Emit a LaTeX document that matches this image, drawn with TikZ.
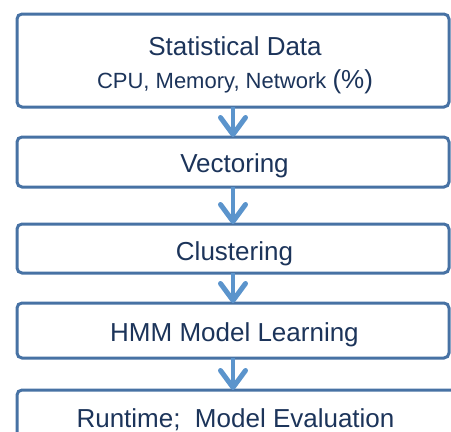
\documentclass[tikz,border=0pt]{standalone}
\usepackage{fontspec}
\setmainfont{Liberation Sans}
\usetikzlibrary{arrows.meta}
\definecolor{boxline}{RGB}{71,114,164}
\definecolor{flow}{RGB}{91,148,204}
\definecolor{ink}{RGB}{28,52,90}
\begin{document}
\begin{tikzpicture}[x=1pt,y=-1pt,
  stage/.style={draw=boxline, line width=3pt, rounded corners=5pt, fill=white,
    inner sep=0pt, outer sep=0pt},
  caption/.style={text=ink, inner sep=0pt, anchor=base,
    font=\fontsize{26}{30}\selectfont},
  subcaption/.style={text=ink, inner sep=0pt, anchor=base,
    font=\fontsize{22}{26}\selectfont},
  flowarrow/.style={draw=flow, line width=4pt,
    -{Straight Barb[length=17pt,width=25pt,line width=5pt,round]}}]
\useasboundingbox (0,0) rectangle (451,432);
\clip (0,0) rectangle (451,432);

% processing stages
\node[stage, minimum width=432pt, minimum height=93pt]  (data)  at (233,60.5)  {};
\node[stage, minimum width=432pt, minimum height=50pt]  (vect)  at (233,162)   {};
\node[stage, minimum width=432pt, minimum height=49pt]  (clust) at (233,248.5) {};
\node[stage, minimum width=432pt, minimum height=55pt]  (hmm)   at (233,330.5) {};
\node[stage, minimum width=453pt, minimum height=80pt]  (eval)  at (243.5,430) {};

% stage captions
\node[caption]    (tdata)  at (235,55.5) {Statistical Data};
\node[subcaption] (tsub)   at (235,88)   {CPU, Memory, Network {\fontsize{26}{30}\selectfont(\%)}};
\node[caption]    (tvect)  at (234.5,172.5) {Vectoring};
\node[caption]    (tclust) at (234.5,260)   {Clustering};
\node[caption]    (thmm)   at (234.5,341)   {HMM Model Learning};
\node[caption]    (teval)  at (235.5,427)   {Runtime;\ \ Model Evaluation};

% flow between stages
\draw[flowarrow] (data.south) -- (vect.north);
\draw[flowarrow] (vect.south) -- (clust.north);
\draw[flowarrow] (clust.south) -- (hmm.north);
\draw[flowarrow] (hmm.south) -- (eval.north -| hmm.south);
\end{tikzpicture}
\end{document}
